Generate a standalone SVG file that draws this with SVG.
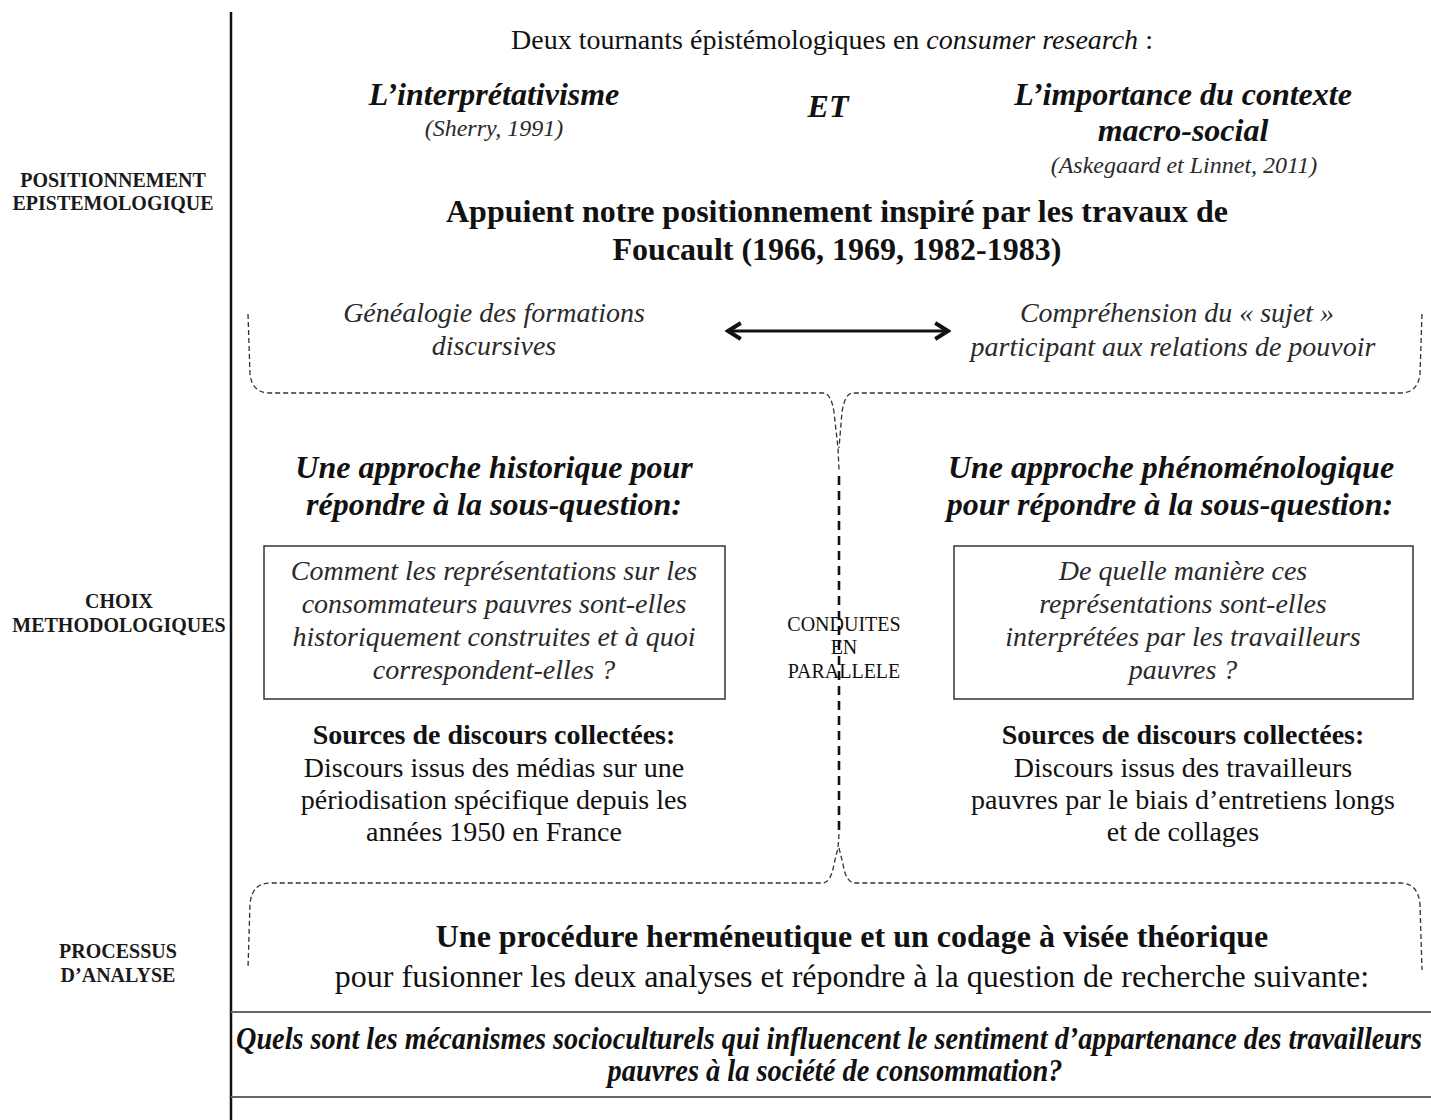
<svg xmlns="http://www.w3.org/2000/svg" width="1431" height="1120" viewBox="0 0 1431 1120">
<style>
text{font-family:"Liberation Serif","Times New Roman",serif;fill:#111;text-anchor:middle}
.lbl{font-size:20px;font-weight:bold;fill:#1a1a1a}
.bi{font-weight:bold;font-style:italic}
.it{font-style:italic;fill:#2a2a2a}
.b{font-weight:bold}
.h{font-size:32px}
.t{font-size:28px}
.dash{fill:none;stroke:#333;stroke-width:1.3;stroke-dasharray:5 3}
.box{fill:none;stroke:#333;stroke-width:1.5}
.rule{stroke:#666;stroke-width:2}
</style>
<defs>
<marker id="ah" viewBox="0 0 12 12" refX="10" refY="6" markerWidth="6" markerHeight="6" orient="auto-start-reverse" markerUnits="strokeWidth">
<path d="M2,1 L10,6 L2,11" fill="none" stroke="#111" stroke-width="2.4"/>
</marker>
</defs>
<rect width="1431" height="1120" fill="#fff"/>
<g id="frame">
<line x1="231" y1="12" x2="231" y2="1120" stroke="#111" stroke-width="2.5"/>
<line class="rule" x1="231" y1="1012" x2="1431" y2="1012"/>
<line class="rule" x1="231" y1="1097" x2="1431" y2="1097"/>
</g>
<g id="labels">
<text class="lbl" x="113" y="187">POSITIONNEMENT</text>
<text class="lbl" x="113" y="210">EPISTEMOLOGIQUE</text>
<text class="lbl" x="119" y="608">CHOIX</text>
<text class="lbl" x="119" y="632">METHODOLOGIQUES</text>
<text class="lbl" x="118" y="958">PROCESSUS</text>
<text class="lbl" x="118" y="982">D’ANALYSE</text>
</g>
<g id="tournants">
<text class="t" x="832" y="49">Deux tournants épistémologiques en <tspan font-style="italic">consumer research</tspan> :</text>
</g>
<g id="interpretativisme">
<text class="bi h" x="494" y="105">L’interprétativisme</text>
<text class="it" x="494" y="136" font-size="24">(Sherry, 1991)</text>
</g>
<g id="et">
<text class="bi h" x="828" y="117">ET</text>
</g>
<g id="contexte">
<text class="bi h" x="1183" y="105">L’importance du contexte</text>
<text class="bi h" x="1183" y="141">macro-social</text>
<text class="it" x="1184" y="173" font-size="24">(Askegaard et Linnet, 2011)</text>
</g>
<g id="foucault">
<text class="b h" x="837" y="222">Appuient notre positionnement inspiré par les travaux de</text>
<text class="b h" x="837" y="260">Foucault (1966, 1969, 1982-1983)</text>
</g>
<g id="genealogie">
<text class="it t" x="494" y="322">Généalogie des formations</text>
<text class="it t" x="494" y="355">discursives</text>
</g>
<g id="comprehension">
<text class="it t" x="1177" y="322">Compréhension du « sujet »</text>
<text class="it t" x="1173" y="356">participant aux relations de pouvoir</text>
</g>
<g id="historique">
<text class="bi h" x="494" y="478">Une approche historique pour</text>
<text class="bi h" x="494" y="515">répondre à la sous-question:</text>
<rect class="box" x="264" y="546" width="461" height="153"/>
<text class="it t" x="494" y="580">Comment les représentations sur les</text>
<text class="it t" x="494" y="613">consommateurs pauvres sont-elles</text>
<text class="it t" x="494" y="646">historiquement construites et à quoi</text>
<text class="it t" x="494" y="679">correspondent-elles ?</text>
<text class="b t" x="494" y="744">Sources de discours collectées:</text>
<text class="t" x="494" y="777">Discours issus des médias sur une</text>
<text class="t" x="494" y="809">périodisation spécifique depuis les</text>
<text class="t" x="494" y="841">années 1950 en France</text>
</g>
<g id="phenomenologique">
<text class="bi h" x="1171" y="478">Une approche phénoménologique</text>
<text class="bi h" x="1170" y="515">pour répondre à la sous-question:</text>
<rect class="box" x="954" y="546" width="459" height="153"/>
<text class="it t" x="1183" y="580">De quelle manière ces</text>
<text class="it t" x="1183" y="613">représentations sont-elles</text>
<text class="it t" x="1183" y="646">interprétées par les travailleurs</text>
<text class="it t" x="1183" y="679">pauvres ?</text>
<text class="b t" x="1183" y="744">Sources de discours collectées:</text>
<text class="t" x="1183" y="777">Discours issus des travailleurs</text>
<text class="t" x="1183" y="809">pauvres par le biais d’entretiens longs</text>
<text class="t" x="1183" y="841">et de collages</text>
</g>
<g id="parallele">
<text x="844" y="631" font-size="20" fill="#333">CONDUITES</text>
<text x="844" y="654" font-size="20" fill="#333">EN</text>
<text x="844" y="678" font-size="20" fill="#333">PARALLELE</text>
</g>
<g id="analyse">
<text class="b h" x="852" y="947">Une procédure herméneutique et un codage à visée théorique</text>
<text class="h" x="852" y="987">pour fusionner les deux analyses et répondre à la question de recherche suivante:</text>
</g>
<g id="question">
<text class="bi" x="829" y="1049" font-size="31" textLength="1186" lengthAdjust="spacingAndGlyphs">Quels sont les mécanismes socioculturels qui influencent le sentiment d’appartenance des travailleurs</text>
<text class="bi" x="835" y="1081" font-size="31" textLength="455" lengthAdjust="spacingAndGlyphs">pauvres à la société de consommation?</text>
</g>
<g id="connectors">
<line x1="728" y1="331" x2="948" y2="331" stroke="#111" stroke-width="3.2" marker-start="url(#ah)" marker-end="url(#ah)"/>
<path class="dash" d="M248,314 L250,374 Q252,393 270,393 L823,393 Q831,393 834,412 L838,448 L839,470"/>
<path class="dash" d="M1422,314 L1420,374 Q1418,393 1400,393 L853,393 Q845,393 842,412 L839,448"/>
<line x1="839" y1="476" x2="839" y2="830" stroke="#111" stroke-width="2.6" stroke-dasharray="9 6"/>
<path class="dash" d="M839,834 L838,848 L834,864 Q831,883 822,883 L270,883 Q252,883 250,904 L248,968"/>
<path class="dash" d="M839,848 L843,864 Q846,883 855,883 L1400,883 Q1418,883 1420,904 L1422,970"/>
</g>
</svg>
